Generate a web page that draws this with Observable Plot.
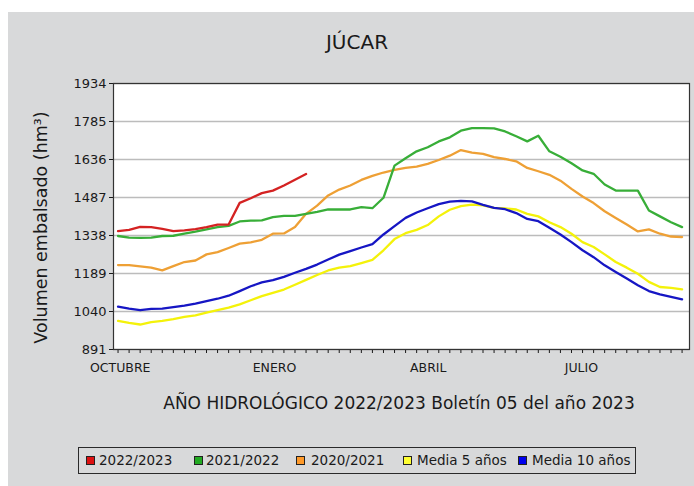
<!DOCTYPE html>
<html>
<head>
<meta charset="utf-8">
<script src="https://cdn.jsdelivr.net/npm/d3@7"></script>
<script src="https://cdn.jsdelivr.net/npm/@observablehq/plot@0.6"></script>
<style>
  html, body { margin: 0; padding: 0; background: #ffffff; }
  #wrap { position: relative; width: 694px; height: 486px; overflow: hidden; font-family: "DejaVu Sans", sans-serif; color: #1a1a1a; }
  #panel { position: absolute; left: 8px; top: 12px; right: 0; bottom: 0; background: #d8d9da; }
  #title { position: absolute; left: 0; width: 714px; top: 30px; text-align: center; font-size: 20px; }
  #chart { position: absolute; left: 0; top: 0; }
  #sub { position: absolute; left: 0; width: 798px; top: 393px; text-align: center; font-size: 17px; }
  #legend { position: absolute; left: 78px; top: 447px; width: 556px; height: 25px; border: 1px solid #2a2a2a; font-size: 13.5px; }
  .sw { position: absolute; top: 8px; width: 7px; height: 7px; border: 1px solid #222; }
  .lt { position: absolute; top: 4px; white-space: nowrap; }
</style>
</head>
<body>
<div id="wrap">
  <div id="panel"></div>
  <div id="title">JÚCAR</div>
  <div id="chart"></div>
  <div id="sub">AÑO HIDROLÓGICO 2022/2023 Boletín 05 del año 2023</div>
  <div id="legend"></div>
</div>
<script>
// Weeks of the hydrological year (index 0 = start of October)
const weeks = d3.range(52);

// Series values (hm³), one value per week
const s2022_2023 = [1355,1360,1372,1371,1364,1355,1358,1363,1371,1381,1381,1466,1484,1504,1514,1534,1557,1579];
const s2021_2022 = [1336,1330,1329,1330,1336,1337,1345,1353,1362,1371,1376,1393,1396,1397,1410,1415,1415,1423,1431,1440,1440,1440,1449,1445,1486,1612,1641,1668,1684,1707,1723,1749,1759,1759,1758,1746,1727,1707,1729,1668,1647,1621,1593,1580,1538,1514,1514,1514,1436,1413,1390,1371];
const s2020_2021 = [1222,1222,1217,1212,1201,1218,1234,1240,1264,1273,1289,1306,1311,1321,1345,1346,1371,1423,1455,1495,1518,1534,1556,1572,1585,1595,1603,1608,1619,1634,1651,1673,1663,1658,1645,1638,1629,1603,1590,1576,1553,1521,1491,1465,1433,1407,1381,1354,1362,1345,1334,1332];
const media5 = [1003,995,989,998,1003,1010,1019,1025,1036,1045,1055,1068,1084,1100,1113,1126,1145,1164,1183,1201,1212,1218,1230,1242,1280,1324,1347,1360,1379,1413,1439,1453,1459,1456,1446,1444,1440,1423,1413,1390,1371,1345,1312,1293,1264,1234,1212,1188,1156,1136,1133,1127];
const media10 = [1059,1051,1045,1050,1051,1057,1063,1071,1081,1090,1102,1120,1139,1154,1163,1176,1192,1207,1224,1244,1263,1277,1291,1304,1342,1375,1407,1428,1445,1461,1471,1474,1472,1458,1446,1441,1426,1403,1394,1368,1342,1312,1280,1253,1221,1195,1169,1143,1120,1107,1097,1088];

// Series names and colours
const seriesNames = ["2022/2023", "2021/2022", "2020/2021", "Media 5 años", "Media 10 años"];
const seriesValues = [s2022_2023, s2021_2022, s2020_2021, media5, media10];
const lineColors = ["#d42222", "#38ae38", "#eea035", "#f4f20a", "#1616c4"];
const swatchColors = ["#dd1111", "#22aa22", "#ff9a2a", "#ffff33", "#0000ee"];

// Axis ticks
const yTicks = [891, 1040, 1189, 1338, 1487, 1636, 1785, 1934];
const monthLabels = ["OCTUBRE", "ENERO", "ABRIL", "JULIO"];
const monthPos = [0.2, 14.15, 28.05, 41.9];

const rows = [];
seriesValues.forEach((vals, si) => {
  vals.forEach((v, i) => rows.push({week: weeks[i], value: v, series: seriesNames[si]}));
});
const labelMap = new Map(monthPos.map((p, i) => [p, monthLabels[i]]));

const drawOrder = ["Media 5 años", "Media 10 años", "2020/2021", "2021/2022", "2022/2023"];

const chart = Plot.plot({
  width: 694,
  height: 380,
  marginLeft: 113,
  marginRight: 5,
  marginTop: 83,
  marginBottom: 31,
  style: { background: "transparent", fontFamily: "DejaVu Sans, sans-serif", fontSize: "13px", color: "#1a1a1a" },
  x: { domain: [-0.41, 51.67], axis: null },
  y: { domain: [891, 1934], axis: null },
  marks: [
    Plot.frame({ fill: "white" }),
    Plot.gridY(yTicks, { stroke: "#bcbcbc", strokeOpacity: 1, strokeWidth: 1.3 }),
    Plot.axisY(yTicks, { tickSize: 4, tickPadding: 3, label: null, tickFormat: d => String(d), fontSize: 13 }),
    Plot.axisX(weeks, { tickSize: 4, tickFormat: () => "", label: null }),
    Plot.axisX(monthPos, { tickSize: 0, tickPadding: 14, label: null, tickFormat: d => labelMap.get(d), fontSize: 12.5 }),
    ...drawOrder.map(name => {
      const si = seriesNames.indexOf(name);
      return Plot.line(rows.filter(r => r.series === name), {
        x: "week", y: "value", stroke: lineColors[si], strokeWidth: 2.3, curve: "linear"
      });
    }),
    Plot.frame({ stroke: "#333", strokeWidth: 1.2 }),
    Plot.text(["Volumen embalsado (hm³)"], {
      frameAnchor: "left", textAnchor: "middle", rotate: -90, dx: -72, dy: 11, fontSize: 17.5, fill: "#1a1a1a"
    })
  ]
});
document.getElementById("chart").appendChild(chart);

// Legend item positions (relative to the legend box)
const swatchX = [7, 115, 217, 324, 439];
const textX = [20, 127, 232, 338, 453];
const legend = document.getElementById("legend");
seriesNames.forEach((name, i) => {
  const sw = document.createElement("div");
  sw.className = "sw";
  sw.style.left = swatchX[i] + "px";
  sw.style.background = swatchColors[i];
  const t = document.createElement("span");
  t.className = "lt";
  t.style.left = textX[i] + "px";
  t.textContent = name;
  legend.appendChild(sw);
  legend.appendChild(t);
});
</script>
</body>
</html>
